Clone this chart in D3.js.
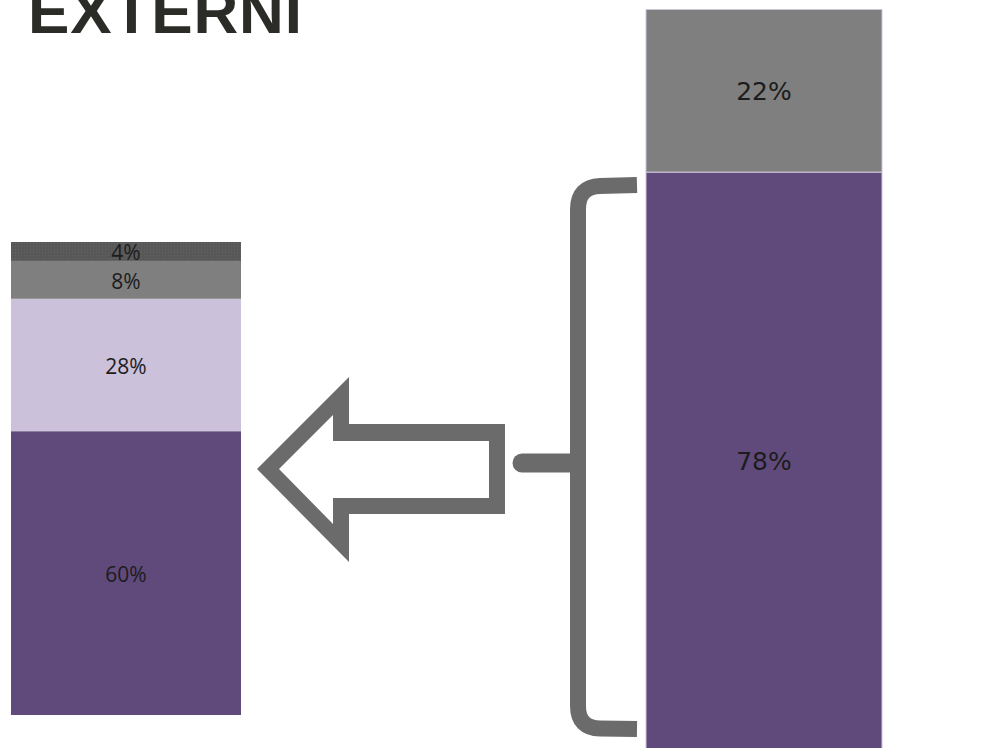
<!DOCTYPE html>
<html>
<head>
<meta charset="utf-8">
<script src="https://cdn.jsdelivr.net/npm/d3@7"></script>
<style>
  html, body { margin: 0; padding: 0; background: #ffffff; }
  svg { display: block; }
</style>
</head>
<body>
<svg id="chart" width="1004" height="748"></svg>
<script>
// Breakdown bar (left): share of each group, stacked bottom to top
const detailGroups = ["Grupa A", "Grupa B", "Grupa C", "Grupa D"];
const detailValues = [60, 28, 8, 4];
const detailColors = ["#604a7b", "#ccc1da", "#7f7f7f", "#595959"];

// Total bar (right): share of each group, stacked bottom to top
const totalGroups = ["Externi", "Ostali"];
const totalValues = [78, 22];
const totalColors = ["#604a7b", "#7f7f7f"];

const titleText = "EXTERNI";

const svg = d3.select("#chart");
const defs = svg.append("defs");

// Fine dotted texture used on the darkest segment
const pat = defs.append("pattern")
  .attr("id", "dots").attr("width", 3).attr("height", 3)
  .attr("patternUnits", "userSpaceOnUse");
pat.append("rect").attr("width", 3).attr("height", 3).attr("fill", "#595959");
pat.append("rect").attr("x", 0).attr("y", 0).attr("width", 1).attr("height", 1).attr("fill", "#626262");
pat.append("rect").attr("x", 1.5).attr("y", 1.5).attr("width", 1).attr("height", 1).attr("fill", "#525252");

function stackData(groups, values) {
  let acc = 0;
  return values.map((v, i) => {
    const d = { group: groups[i], value: v, y0: acc, y1: acc + v, i };
    acc += v;
    return d;
  });
}

function drawBar(opts) {
  const x = d3.scaleBand().domain([opts.key]).range(opts.xRange).padding(0);
  const y = d3.scaleLinear().domain([0, 100]).range(opts.yRange);
  const data = stackData(opts.groups, opts.values);
  const g = svg.append("g");
  g.selectAll("rect").data(data).join("rect")
    .attr("x", x(opts.key))
    .attr("width", x.bandwidth())
    .attr("y", d => y(d.y1))
    .attr("height", d => y(d.y0) - y(d.y1))
    .attr("fill", d => (opts.patterned && d.i === opts.patterned) ? "url(#dots)" : opts.colors[d.i])
    .attr("stroke", opts.stroke || "none")
    .attr("stroke-width", opts.stroke ? 1 : 0);
  g.selectAll("text").data(data).join("text")
    .attr("x", x(opts.key) + x.bandwidth() / 2)
    .attr("y", d => (y(d.y0) + y(d.y1)) / 2 + 1)
    .attr("text-anchor", "middle")
    .attr("dominant-baseline", "central")
    .attr("font-family", opts.font)
    .attr("font-size", opts.fontSize)
    .attr("fill", "#1c1c1c")
    .text(d => d.value + "%");
}

drawBar({
  key: "detail", groups: detailGroups, values: detailValues, colors: detailColors,
  xRange: [11, 241], yRange: [715, 242], patterned: 3,
  font: "'Open Sans', sans-serif", fontSize: 21
});

drawBar({
  key: "total", groups: totalGroups, values: totalValues, colors: totalColors,
  xRange: [646, 882], yRange: [748.5, 9.5], stroke: "#cfc6dc",
  font: "'DejaVu Sans', sans-serif", fontSize: 25
});

// Curly brace spanning the 78% segment
const braceColor = "#6b6b6b";
svg.append("path")
  .attr("d", "M637,185 L600,186 Q578,187 578,209 L578,706 Q578,728 600,728.5 L637,729")
  .attr("fill", "none").attr("stroke", braceColor).attr("stroke-width", 16)
  .attr("stroke-linejoin", "round");
svg.append("path")
  .attr("d", "M522,463 L572,463")
  .attr("fill", "none").attr("stroke", braceColor).attr("stroke-width", 19)
  .attr("stroke-linecap", "round");

// Outlined arrow pointing to the breakdown bar
const outer = [[505,424],[349,424],[349,377],[257,469],[349,562],[349,514],[505,514]];
const inner = [[489,441],[333,441],[333,415],[279,469],[333,524],[333,498],[489,498]];
const line = d3.line();
svg.append("path")
  .attr("d", line(outer) + "Z" + line(inner) + "Z")
  .attr("fill", braceColor)
  .attr("fill-rule", "evenodd");

// Title
svg.append("text")
  .attr("x", 28)
  .attr("y", 33)
  .attr("font-family", "'Liberation Sans', Arial, sans-serif")
  .attr("font-weight", "bold")
  .attr("font-size", 62)
  .attr("fill", "#2b2b27")
  .attr("textLength", 274)
  .attr("lengthAdjust", "spacing")
  .text(titleText);
</script>
</body>
</html>
